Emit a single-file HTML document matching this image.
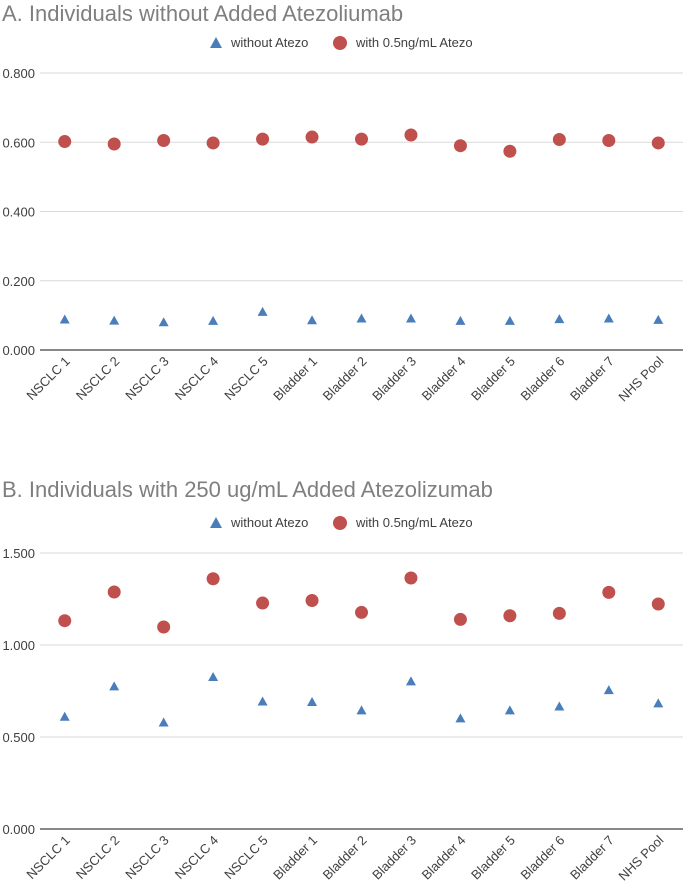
<!DOCTYPE html>
<html><head><meta charset="utf-8"><style>
body{margin:0;background:#fff;}
svg{display:block;font-family:"Liberation Sans",sans-serif;}
</style></head><body>
<svg id="chart" width="685" height="885"></svg>
<script>
const categories=["NSCLC 1","NSCLC 2","NSCLC 3","NSCLC 4","NSCLC 5","Bladder 1","Bladder 2","Bladder 3","Bladder 4","Bladder 5","Bladder 6","Bladder 7","NHS Pool"];
const aWithout=[0.088,0.085,0.080,0.084,0.110,0.086,0.091,0.091,0.084,0.084,0.089,0.091,0.087];
const aWith=[0.602,0.595,0.605,0.598,0.609,0.615,0.609,0.621,0.590,0.574,0.608,0.605,0.598];
const bWithout=[0.610,0.775,0.579,0.826,0.693,0.690,0.645,0.802,0.601,0.645,0.666,0.755,0.683];
const bWith=[1.132,1.288,1.098,1.360,1.228,1.242,1.177,1.364,1.139,1.159,1.172,1.286,1.223];
const aTicks=[0,0.2,0.4,0.6,0.8];
const bTicks=[0,0.5,1.0,1.5];
const NS="http://www.w3.org/2000/svg";
const svg=document.getElementById('chart');
function mk(t,a,p){const e=document.createElementNS(NS,t);for(const k in a)e.setAttribute(k,a[k]);(p||svg).appendChild(e);return e;}
function panel(id,title,titleY,legY,y0,yTop,maxV,ticks,w1,w2){
  const g=mk('g',{});
  
  
  const L=40,R=683,bw=(R-L)/categories.length;
  const x=i=>L+bw*(i+0.5);
  const y=v=>y0-(v/maxV)*(y0-yTop);
  const t=mk('text',{x:2,y:titleY,'font-size':22,fill:'#7f7f7f'},g);t.textContent=title;
  
  
  const lg=mk('g',{},g);
  
  
  mk('polygon',{points:`${210},${legY+5} ${216},${legY-6} ${222},${legY+5}`,fill:'#4a7ebb'},lg);
  const l1=mk('text',{x:231,y:legY+4,'font-size':13,fill:'#404040'},lg);l1.textContent='without Atezo';
  mk('circle',{cx:340,cy:legY,r:7,fill:'#c0504d'},lg);
  const l2=mk('text',{x:356,y:legY+4,'font-size':13,fill:'#404040'},lg);l2.textContent='with 0.5ng/mL Atezo';
  ticks.forEach(v=>{
    const gl=mk('line',{x1:L,x2:R,y1:y(v),y2:y(v),stroke:v===0?'#404040':'#d9d9d9','stroke-width':v===0?1.2:1},g);
    
    
    const tl=mk('text',{x:35,y:y(v)+5,'font-size':13,fill:'#404040','text-anchor':'end'},g);tl.textContent=v.toFixed(3);
    
    
  });
  categories.forEach((c,i)=>{
    const xl=mk('text',{x:x(i)+6,y:y0+12,'font-size':13,fill:'#404040','text-anchor':'end',transform:`rotate(-45 ${x(i)+6} ${y0+12})`},g);
    xl.textContent=c;
    
    
  });
  w1.forEach((v,i)=>{
    const cx=x(i),cy=y(v);
    const p=mk('polygon',{points:`${cx-5},${cy+4} ${cx},${cy-5} ${cx+5},${cy+4}`,fill:'#4a7ebb'},g);
    
    
  });
  w2.forEach((v,i)=>{
    const c=mk('circle',{cx:x(i),cy:y(v),r:6.5,fill:'#c0504d'},g);
    
    
  });
}
panel('panel-a','A. Individuals without Added Atezoliumab',21,43,350,73,0.8,aTicks,aWithout,aWith);
panel('panel-b','B. Individuals with 250 ug/mL Added Atezolizumab',497,523,829,553,1.5,bTicks,bWithout,bWith);
</script>
</body></html>
